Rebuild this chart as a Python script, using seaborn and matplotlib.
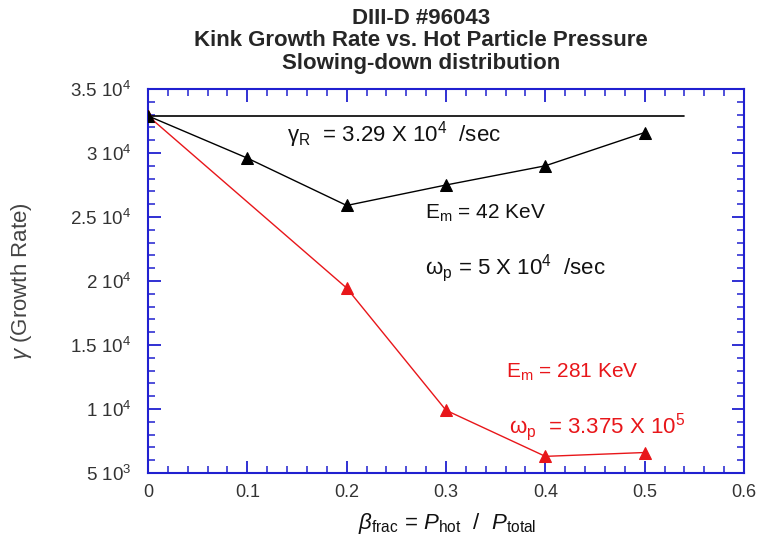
import matplotlib
matplotlib.use("Agg")
import matplotlib.pyplot as plt
import seaborn as sns
import pandas as pd
from matplotlib.ticker import MultipleLocator, FixedLocator

sns.set_theme(style="white")
plt.rcParams['font.family'] = ['Liberation Sans', 'DejaVu Sans']
plt.rcParams['mathtext.fontset'] = 'custom'
plt.rcParams['mathtext.rm'] = 'Liberation Sans'
plt.rcParams['mathtext.it'] = 'Liberation Sans:italic'
plt.rcParams['mathtext.bf'] = 'Liberation Sans:bold'

beta = [0.0, 0.1, 0.2, 0.3, 0.4, 0.5]
gamma_42 = [32900, 29600, 25900, 27500, 29000, 31600]
beta_281 = [0.0, 0.2, 0.3, 0.4, 0.5]
gamma_281 = [32900, 19450, 9900, 6300, 6600]
gamma_R = 32900
gamma_R_xmax = 0.54
yticks = [5000, 10000, 15000, 20000, 25000, 30000, 35000]
ytick_labels = [r"5 $10^3$", r"1 $10^4$", r"1.5 $10^4$", r"2 $10^4$", r"2.5 $10^4$", r"3 $10^4$", r"3.5 $10^4$"]
xticks = [0, 0.1, 0.2, 0.3, 0.4, 0.5, 0.6]
xtick_labels = ["0", "0.1", "0.2", "0.3", "0.4", "0.5", "0.6"]

df_black = pd.DataFrame({"beta": beta, "gamma": gamma_42})
df_red = pd.DataFrame({"beta": beta_281, "gamma": gamma_281})

red = "#e8161a"
blue = "#2020d0"

fig = plt.figure(figsize=(7.61, 5.45), dpi=100)
ax = fig.add_axes([148/761, 1-473/545, (744-148)/761, (473-89)/545])

ax.plot([0, gamma_R_xmax], [gamma_R, gamma_R], color="black", lw=1.2, zorder=2)
sns.lineplot(data=df_red, x="beta", y="gamma", ax=ax, color=red, marker="^",
             markersize=8, markeredgecolor=red, lw=1.0, zorder=3)
sns.lineplot(data=df_black, x="beta", y="gamma", ax=ax, color="black", marker="^",
             markersize=8, markeredgecolor="black", lw=1.0, zorder=4)

ax.set_xlim(0, 0.6)
ax.set_ylim(5000, 35000)
ax.xaxis.set_major_locator(FixedLocator(xticks))
ax.set_xticklabels(xtick_labels)
ax.yaxis.set_major_locator(FixedLocator(yticks))
ax.set_yticklabels(ytick_labels)
ax.xaxis.set_minor_locator(MultipleLocator(0.02))
ax.yaxis.set_minor_locator(MultipleLocator(1000))
for s in ax.spines.values():
    s.set_color(blue)
    s.set_linewidth(1.5)
ax.tick_params(which="both", direction="in", top=True, right=True, bottom=True, left=True,
               colors=blue, labelcolor="#333333", labelsize=13)
ax.tick_params(axis="y", labelsize=13.5)
ax.tick_params(which="major", length=9, width=1.3)
ax.tick_params(which="minor", length=5, width=1.1)
ax.tick_params(axis="x", pad=8)
ax.tick_params(axis="y", pad=12)
ax.set_xlabel("")
ax.set_ylabel("")

fig.text(447/761, 1-524/545,
         r"$\beta_{\mathregular{frac}}$ = $P_{\mathregular{hot}}$  /  $P_{\mathregular{total}}$",
         ha="center", va="center", fontsize=16, color="#111111")
fig.text(22/761, 1-281/545, r"$\gamma$ (Growth Rate)", rotation=90, ha="center", va="center",
         fontsize=16, color="#444444")

tx = 421/761
fig.text(tx, 1-18/545, "DIII-D #96043", ha="center", va="center", fontsize=16, fontweight="bold")
fig.text(tx, 1-41/545, "Kink Growth Rate vs. Hot Particle Pressure", ha="center", va="center", fontsize=16, fontweight="bold")
fig.text(tx, 1-63/545, "Slowing-down distribution", ha="center", va="center", fontsize=16, fontweight="bold")

ax.text(0.14, 30860, r"$\mathregular{\gamma_R}$  = 3.29 X 10$^4$  /sec", fontsize=16, color="#111111")
ax.text(0.279, 24840, r"E$_\mathregular{m}$ = 42 KeV", fontsize=15, color="#111111")
ax.text(0.279, 20550, r"$\mathregular{\omega_p}$ = 5 X 10$^4$  /sec", fontsize=16, color="#111111")
ax.text(0.36, 12420, r"E$_\mathregular{m}$ = 281 KeV", fontsize=15, color=red)
ax.text(0.363, 8130, r"$\mathregular{\omega_p}$  = 3.375 X 10$^5$", fontsize=16, color=red)

fig.savefig("out.png", dpi=100)
